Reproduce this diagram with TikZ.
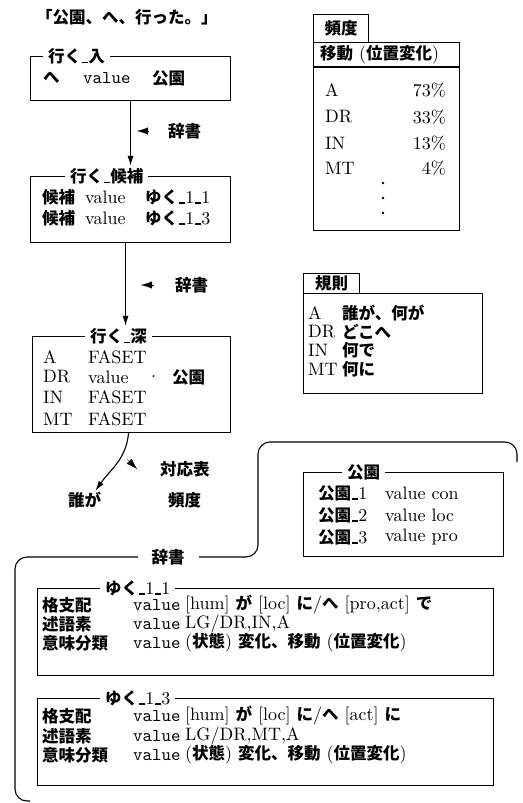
\documentclass[tikz,border=0pt]{standalone}
\usepackage{fontspec}
\setmainfont{lmroman10-regular.otf}[BoldFont=lmroman10-bold.otf]
\setmonofont{lmmono10-regular.otf}
\newfontfamily\jpf{Noto Sans CJK JP}
\usetikzlibrary{arrows.meta}
\newcommand\jt[1]{{\jpf\bfseries\fontsize{16.5}{20}\selectfont #1}}
\newcommand\us{\kern0.8pt\rule[-0.6pt]{5.5pt}{1.3pt}\kern0.8pt}
\begin{document}
\begin{tikzpicture}[x=1pt,y=-1pt,
  every node/.style={inner sep=0pt, font=\fontsize{18}{20}\selectfont},
  box/.style={draw, line width=1.1pt, anchor=north west, inner sep=0pt},
  ttl/.style={anchor=west, fill=white, inner xsep=5pt, inner ysep=2pt},
  t/.style={anchor=west},
  r/.style={anchor=east},
  mono/.style={anchor=west, font=\fontsize{18}{20}\ttfamily},
  arr/.style={line width=1.1pt, -{Latex[length=10pt,width=6pt]}},
  pointer/.style={line width=0.2pt, -{Latex[length=11pt,width=7pt]}},
  rule/.style={line width=1.1pt}
]
\useasboundingbox (0,0) rectangle (522,803);

% title
\node[t] (title) at (36,17) {\jt{「公園、へ、行った。」}};

% box 1
\node[box, minimum width=200pt, minimum height=44pt] (b1) at (30,56) {};
\node[ttl] (l1) at (43,56) {\jt{行く}\us\jt{入}};
\node[t] (b1a) at (43,78) {\jt{へ}};
\node[mono] (b1b) at (83,78) {value};
\node[t] (b1c) at (152,78) {\jt{公園}};

% box 2
\node[box, minimum width=200pt, minimum height=66pt] (b2) at (30,176) {};
\node[ttl] (l2) at (65,176) {\jt{行く}\us\jt{候補}};
\node[t] (b2a) at (42,197) {\jt{候補}};
\node[t] (b2b) at (85,197) {value};
\node[t] (b2c) at (145,197) {\jt{ゆく}\us 1\us 1};
\node[t] (b2d) at (42,218) {\jt{候補}};
\node[t] (b2e) at (85,218) {value};
\node[t] (b2f) at (145,218) {\jt{ゆく}\us 1\us 3};

% box 3
\node[box, minimum width=198pt, minimum height=96pt] (b3) at (32,336) {};
\node[ttl] (l3) at (85,336) {\jt{行く}\us\jt{深}};
\node[t] (b3a) at (43,357) {A};
\node[t] (b3b) at (88,357) {FASET};
\node[t] (b3c) at (43,377) {DR};
\node[t] (b3d) at (88,377) {value};
\node[t] (b3e) at (151,377) {.};
\node[t] (b3f) at (172,377) {\jt{公園}};
\node[t] (b3g) at (43,397) {IN};
\node[t] (b3h) at (88,397) {FASET};
\node[t] (b3i) at (43,419) {MT};
\node[t] (b3j) at (88,419) {FASET};

% arrows on the left
\draw[arr] (b1.south) -- (b1.south |- l2.north);
\draw[pointer] (149,131) -- (137,131);
\node[t] (d1) at (168,131) {\jt{辞書}};
\draw[arr] ([xshift=-5pt]b2.south) -- ([xshift=-5pt]b2.south |- l3.north);
\draw[pointer] (154,285) -- (141,285);
\node[t] (d2) at (175,285) {\jt{辞書}};

\node[t] (dare) at (68,500) {\jt{誰が}};
\draw[arr] ([xshift=-3pt]b3.south) to[out=-95,in=55] ([xshift=-6pt,yshift=1pt]dare.north east);
\draw[pointer] (127,459) -- (137,469);
\node[t] (taio) at (160,469) {\jt{対応表}};
\node[t] (hindo2) at (168,500) {\jt{頻度}};

% frequency table
\node[box, minimum width=55pt, minimum height=28pt] (ftab) at (313,14) {};
\node (ftabt) at (ftab.center) {\jt{頻度}};
\node[box, minimum width=146pt, minimum height=188pt] (fbox) at (313,42) {};
\draw[rule] (fbox.west |- 0,67) -- (fbox.east |- 0,67);
\node[t] (fh) at (320,55) {\jt{移動} (\jt{位置変化})};
\node[t] (fa) at (325,90) {A};
\node[r] (fa2) at (446,90) {73\%};
\node[t] (fb) at (325,117) {DR};
\node[r] (fb2) at (446,117) {33\%};
\node[t] (fc) at (325,143) {IN};
\node[r] (fc2) at (446,143) {13\%};
\node[t] (fd) at (325,168) {MT};
\node[r] (fd2) at (446,168) {4\%};
\fill (383,183) circle (1.4pt);
\fill (383,198) circle (1.4pt);
\fill (383,213) circle (1.4pt);

% rules table
\node[box, minimum width=56pt, minimum height=20pt] (rtab) at (303,273) {};
\node (rtabt) at (rtab.center) {\jt{規則}};
\node[box, minimum width=179pt, minimum height=100pt] (rbox) at (303,293) {};
\node[t] (ra) at (308,313) {A};
\node[t] (ra2) at (342,313) {\jt{誰が、何が}};
\node[t] (rb) at (308,332) {DR};
\node[t] (rb2) at (342,332) {\jt{どこへ}};
\node[t] (rc) at (308,350) {IN};
\node[t] (rc2) at (342,350) {\jt{何で}};
\node[t] (rd) at (308,369) {MT};
\node[t] (rd2) at (342,369) {\jt{何に}};

% dictionary outline
\draw[line width=1.1pt, rounded corners=12pt] (517,462) -- (517,442) -- (258,442) -- (258,557) -- (15,557) -- (15,801) -- (30,801);
\node[fill=white, inner xsep=14pt, inner ysep=3pt] (d3) at (168,557) {\jt{辞書}};

% park box
\node[box, minimum width=200pt, minimum height=84pt] (kbox) at (303,472) {};
\node[ttl] (kl) at (342,472) {\jt{公園}};
\node[t] (ka) at (318,493) {\jt{公園}\us 1};
\node[t] (ka2) at (385,493) {value con};
\node[t] (kb) at (318,515) {\jt{公園}\us 2};
\node[t] (kb2) at (385,515) {value loc};
\node[t] (kc) at (318,537) {\jt{公園}\us 3};
\node[t] (kc2) at (385,537) {value pro};

% yuku_1_1
\node[box, minimum width=456pt, minimum height=87pt] (y1) at (37,588) {};
\node[ttl] (y1l) at (100,588) {\jt{ゆく}\us 1\us 1};
\node[t] (y1a) at (42,605) {\jt{格支配}};
\node[mono] (y1b) at (133,605) {value};
\node[t] (y1c) at (185,605) {[hum] \jt{が} [loc] \jt{に}/\jt{へ} [pro,act] \jt{で}};
\node[t] (y1d) at (42,624) {\jt{述語素}};
\node[mono] (y1e) at (133,624) {value};
\node[t] (y1f) at (185,624) {LG/DR,IN,A};
\node[t] (y1g) at (42,643) {\jt{意味分類}};
\node[mono] (y1h) at (133,643) {value};
\node[t] (y1i) at (185,643) {(\jt{状態}) \jt{変化、移動} (\jt{位置変化})};

% yuku_1_3
\node[box, minimum width=456pt, minimum height=87pt] (y2) at (37,698) {};
\node[ttl] (y2l) at (100,698) {\jt{ゆく}\us 1\us 3};
\node[t] (y2a) at (42,716) {\jt{格支配}};
\node[mono] (y2b) at (133,716) {value};
\node[t] (y2c) at (185,716) {[hum] \jt{が} [loc] \jt{に}/\jt{へ} [act] \jt{に}};
\node[t] (y2d) at (42,736) {\jt{述語素}};
\node[mono] (y2e) at (133,736) {value};
\node[t] (y2f) at (185,736) {LG/DR,MT,A};
\node[t] (y2g) at (42,755) {\jt{意味分類}};
\node[mono] (y2h) at (133,755) {value};
\node[t] (y2i) at (185,755) {(\jt{状態}) \jt{変化、移動} (\jt{位置変化})};
\end{tikzpicture}
\end{document}
